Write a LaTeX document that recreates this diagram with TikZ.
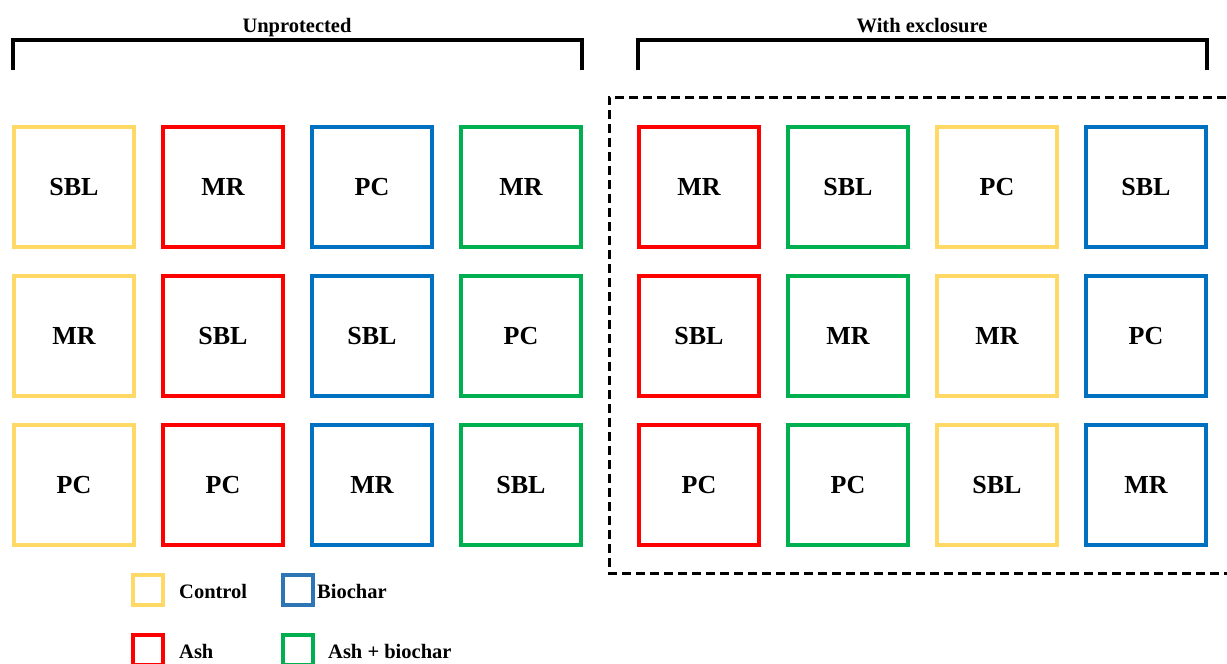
\documentclass[tikz,border=0pt]{standalone}
\usepackage{fontspec}
\setmainfont{Liberation Serif}

\definecolor{ctrl}{HTML}{FFD966}
\definecolor{ash}{HTML}{FF0000}
\definecolor{bio}{HTML}{0070C0}
\definecolor{ashbio}{HTML}{00B050}
\definecolor{biolegend}{HTML}{2E75B6}

\begin{document}
\begin{tikzpicture}[x=1pt,y=-1pt]
  \tikzstyle{every node}=[font=\bfseries\fontsize{26}{28}\selectfont]
  \tikzstyle{plot}=[draw,line width=4pt,minimum size=120pt,inner sep=0pt]
  \tikzstyle{keybox}=[draw,line width=3.5pt,minimum size=30pt,inner sep=0pt]
  \tikzstyle{keytext}=[anchor=west,inner sep=0pt,font=\bfseries\fontsize{20.5}{22}\selectfont]
  \tikzstyle{head}=[anchor=base,inner sep=0pt,font=\bfseries\fontsize{20.5}{22}\selectfont]
  \useasboundingbox (0,0) rectangle (1227,664);

  % unprotected plots
  \foreach \c/\x/\col/\a/\b/\d in {1/74/ctrl/SBL/MR/PC, 2/223/ash/MR/SBL/PC,
      3/372/bio/PC/SBL/MR, 4/521/ashbio/MR/PC/SBL} {
    \node[plot,draw=\col] (u\c-1) at (\x,187) {\a};
    \node[plot,draw=\col] (u\c-2) at (\x,336) {\b};
    \node[plot,draw=\col] (u\c-3) at (\x,485) {\d};
  }
  % plots with exclosure
  \foreach \c/\x/\col/\a/\b/\d in {1/699/ash/MR/SBL/PC, 2/848/ashbio/SBL/MR/PC,
      3/997/ctrl/PC/MR/SBL, 4/1146/bio/SBL/PC/MR} {
    \node[plot,draw=\col] (e\c-1) at (\x,187) {\a};
    \node[plot,draw=\col] (e\c-2) at (\x,336) {\b};
    \node[plot,draw=\col] (e\c-3) at (\x,485) {\d};
  }

  % fence
  \draw[line width=3pt,dash pattern=on 9pt off 5pt]
    (1240,97) -- (609,97) -- (609,573) -- (1240,573);

  % brackets
  \draw[line width=4pt] (13,70) -- (13,40) -- (582,40) -- (582,70);
  \draw[line width=4pt] (638,70) -- (638,40) -- (1207,40) -- (1207,70);
  \node[head] (unprot) at (297,32) {Unprotected};
  \node[head] (exclos) at (922,32) {With exclosure};

  % legend
  \node[keybox,draw=ctrl] (kctrl) at (148,590) {};
  \node[keytext] (lctrl) at (179,591) {Control};
  \node[keybox,draw=biolegend] (kbio) at (298,590) {};
  \node[keytext] (lbio) at (317,591) {Biochar};
  \node[keybox,draw=ash] (kash) at (148,650) {};
  \node[keytext] (lash) at (179,651) {Ash};
  \node[keybox,draw=ashbio] (kashbio) at (298,650) {};
  \node[keytext] (lashbio) at (328,651) {Ash + biochar};
\end{tikzpicture}
\end{document}
